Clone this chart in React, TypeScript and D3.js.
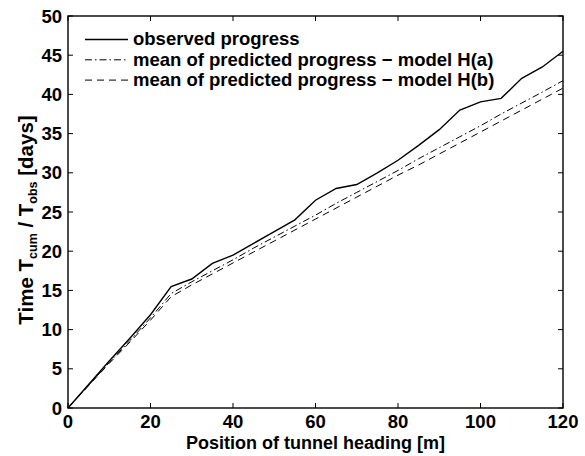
import React from "react";
import * as d3 from "d3";

const positions = [0, 5, 10, 15, 20, 25, 30, 35, 40, 45, 50, 55, 60, 65, 70, 75, 80, 85, 90, 95, 100, 105, 110, 115, 120];
const observed = [0, 3.0, 6.0, 8.9, 11.9, 15.5, 16.45, 18.45, 19.5, 21.0, 22.5, 24.0, 26.5, 28.0, 28.5, 30.0, 31.6, 33.5, 35.5, 38.0, 39.05, 39.5, 42.05, 43.5, 45.5];
const modelHa = [0, 2.9, 5.8, 8.6, 11.5, 14.6, 16.1, 17.5, 18.9, 20.4, 21.8, 23.2, 24.6, 26.1, 27.5, 28.9, 30.3, 31.8, 33.2, 34.6, 36.0, 37.5, 38.9, 40.3, 41.75];
const modelHb = [0, 2.85, 5.7, 8.4, 11.2, 14.2, 15.7, 17.1, 18.5, 19.9, 21.3, 22.7, 24.1, 25.5, 26.9, 28.3, 29.7, 31.0, 32.4, 33.8, 35.2, 36.6, 38.0, 39.4, 40.8];
const xTicks = [0, 20, 40, 60, 80, 100, 120];
const yTicks = [0, 5, 10, 15, 20, 25, 30, 35, 40, 45, 50];
const legendLabels = [
  "observed progress",
  "mean of predicted progress \u2212 model H(a)",
  "mean of predicted progress \u2212 model H(b)",
];

const W = 585;
const H = 456;
const L = 68, R = 563, T = 16, B = 408;
const font = "Arial, 'Liberation Sans', Helvetica, sans-serif";

export default function App() {
  const x = d3.scaleLinear().domain([0, 120]).range([L, R]);
  const y = d3.scaleLinear().domain([0, 50]).range([B, T]);
  const line = (vals: number[]) =>
    d3.line<number>().x((_, i) => x(positions[i])).y((v) => y(v))(vals) || "";
  const series = [
    { vals: observed, dash: "none", w: 1.4 },
    { vals: modelHa, dash: "7,3,1.5,3", w: 1 },
    { vals: modelHb, dash: "7,5", w: 1 },
  ];
  const tickLen = 5;
  return (
    <svg
      width={W}
      height={H}
      style={{ position: "absolute", left: 0, top: 0, background: "#fff" }}
      fontFamily={font}
    >
      <rect x={0} y={0} width={W} height={H} fill="#fff" />
      {series.map((s, i) => (
        <path key={i} d={line(s.vals)} fill="none" stroke="#000" strokeWidth={s.w} strokeDasharray={s.dash} />
      ))}
      <rect x={L} y={T} width={R - L} height={B - T} fill="none" stroke="#000" strokeWidth={1.4} />
      {xTicks.map((t) => (
        <g key={"x" + t}>
          <line x1={x(t)} x2={x(t)} y1={B} y2={B - tickLen} stroke="#000" />
          <line x1={x(t)} x2={x(t)} y1={T} y2={T + tickLen} stroke="#000" />
          <text x={x(t)} y={428} textAnchor="middle" fontSize={18.5} fontWeight="bold">
            {t}
          </text>
        </g>
      ))}
      {yTicks.map((t) => (
        <g key={"y" + t}>
          <line x1={L} x2={L + tickLen} y1={y(t)} y2={y(t)} stroke="#000" />
          <line x1={R} x2={R - tickLen} y1={y(t)} y2={y(t)} stroke="#000" />
          <text x={62} y={y(t) + 6.6} textAnchor="end" fontSize={18.5} fontWeight="bold">
            {t}
          </text>
        </g>
      ))}
      <text x={(L + R) / 2} y={449} textAnchor="middle" fontSize={18} fontWeight="bold">
        Position of tunnel heading [m]
      </text>
      <text
        transform={`translate(33, 220) rotate(-90)`}
        textAnchor="middle"
        fontSize={20.5}
        fontWeight="bold"
      >
        Time T<tspan fontSize={12.5} dy={4}>cum</tspan>
        <tspan dy={-4}> / T</tspan>
        <tspan fontSize={12.5} dy={4}>obs</tspan>
        <tspan dy={-4}> [days]</tspan>
      </text>
      {legendLabels.map((lab, i) => {
        const ly = 39.5 + i * 20.3;
        return (
          <g key={"l" + i}>
            <line x1={85} x2={128} y1={ly} y2={ly} stroke="#000" strokeWidth={series[i].w} strokeDasharray={series[i].dash} />
            <text x={133} y={ly + 5.7} fontSize={18.5} fontWeight="bold">
              {lab}
            </text>
          </g>
        );
      })}
    </svg>
  );
}
